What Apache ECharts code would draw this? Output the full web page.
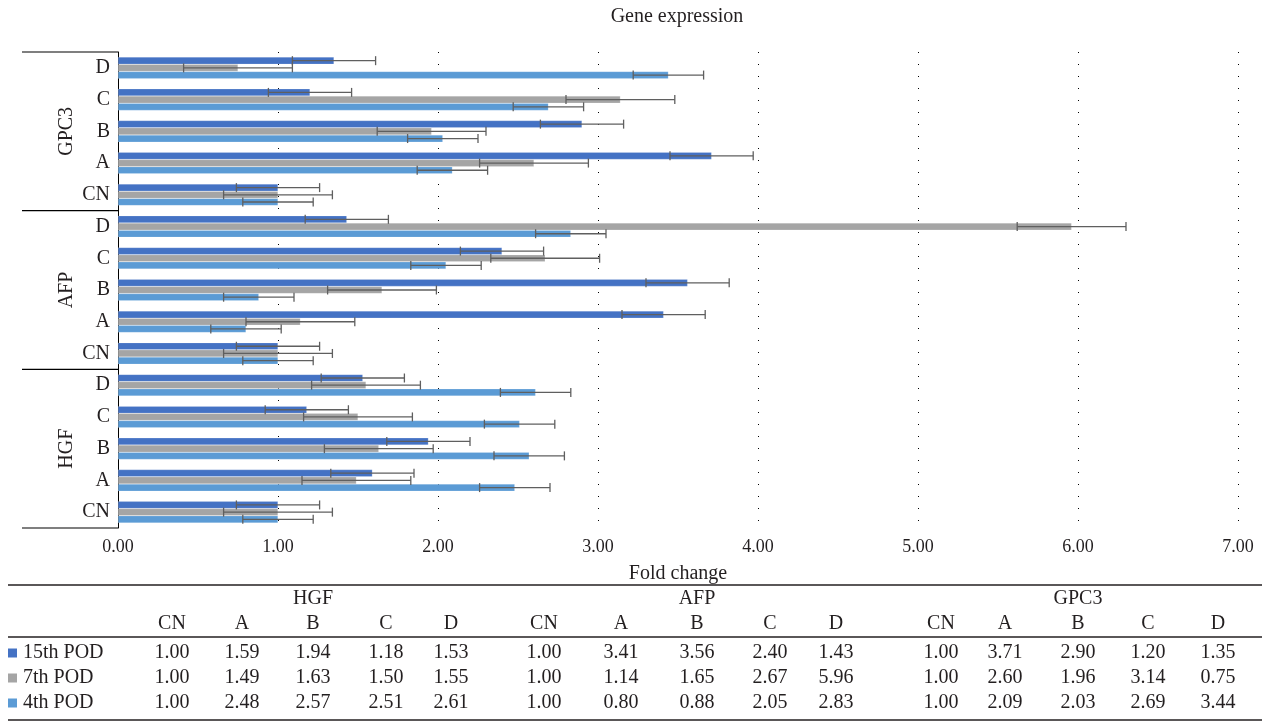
<!DOCTYPE html>
<html>
<head>
<meta charset="utf-8">
<script src="https://cdn.jsdelivr.net/npm/echarts@6/dist/echarts.min.js"></script>
<style>
  html, body { margin: 0; padding: 0; background: #fff; }
  #chart { width: 1268px; height: 723px; }
</style>
</head>
<body>
<div id="chart"></div>
<script>
// genes (outer groups) and the samples inside each, bottom to top
const genes = ['HGF', 'AFP', 'GPC3'];
const samples = ['CN', 'A', 'B', 'C', 'D'];
const seriesNames = ['15th POD', '7th POD', '4th POD'];

// fold change, order: HGF CN..D, AFP CN..D, GPC3 CN..D
const pod15 = [1.00, 1.59, 1.94, 1.18, 1.53, 1.00, 3.41, 3.56, 2.40, 1.43, 1.00, 3.71, 2.90, 1.20, 1.35];
const pod7 = [1.00, 1.49, 1.63, 1.50, 1.55, 1.00, 1.14, 1.65, 2.67, 5.96, 1.00, 2.60, 1.96, 3.14, 0.75];
const pod4 = [1.00, 2.48, 2.57, 2.51, 2.61, 1.00, 0.80, 0.88, 2.05, 2.83, 1.00, 2.09, 2.03, 2.69, 3.44];

// error bar half widths
const err15 = [0.26, 0.26, 0.26, 0.26, 0.26, 0.26, 0.26, 0.26, 0.26, 0.26, 0.26, 0.26, 0.26, 0.26, 0.26];
const err7 = [0.34, 0.34, 0.34, 0.34, 0.34, 0.34, 0.34, 0.34, 0.34, 0.34, 0.34, 0.34, 0.34, 0.34, 0.34];
const err4 = [0.22, 0.22, 0.22, 0.22, 0.22, 0.22, 0.22, 0.22, 0.22, 0.22, 0.22, 0.22, 0.22, 0.22, 0.22];

const xMin = 0, xMax = 7, xStep = 1;

const colors = ['#4472C4', '#A5A5A5', '#5B9BD5'];
const FONT = '"Liberation Serif", "DejaVu Serif", serif';
const INK = '#231F20';
const BAR_W = 7.2;

const categories = genes.flatMap(g => samples.map(s => g + '|' + s));

const chart = echarts.init(document.getElementById('chart'));

function barSeries(name, vals, color) {
  return {
    name, type: 'bar', data: vals,
    barWidth: BAR_W, barGap: '0%',
    itemStyle: { color, borderColor: 'rgba(255,255,255,0.35)', borderWidth: 0.5 },
    z: 2
  };
}

function errorSeries(name, vals, errs, slot) {
  return {
    name: name + ' error', type: 'custom', z: 5,
    data: vals.map((v, i) => [v, i, errs[i]]),
    encode: { x: 0, y: 1 },
    renderItem: (params, api) => {
      const v = api.value(0), c = api.value(1), e = api.value(2);
      const mid = api.coord([v, c]);
      const y = mid[1] + (slot - 1) * BAR_W;
      const x1 = api.coord([v - e, c])[0];
      const x2 = api.coord([v + e, c])[0];
      const h = 4.5;
      const st = { stroke: '#5f5f5f', lineWidth: 1.3 };
      return {
        type: 'group',
        children: [
          { type: 'line', shape: { x1, y1: y, x2, y2: y }, style: st },
          { type: 'line', shape: { x1, y1: y - h, x2: x1, y2: y + h }, style: st },
          { type: 'line', shape: { x1: x2, y1: y - h, x2, y2: y + h }, style: st }
        ]
      };
    }
  };
}

chart.setOption({
  animation: false,
  backgroundColor: '#fff',
  title: {
    text: 'Gene expression', left: 672, top: 2, textAlign: 'center',
    textStyle: { fontFamily: FONT, fontSize: 20, fontWeight: 'normal', color: INK }
  },
  grid: { left: 118, right: 30, top: 52, bottom: 195 },
  xAxis: {
    type: 'value', min: xMin, max: xMax, interval: xStep,
    axisLine: { show: false }, axisTick: { show: false },
    axisLabel: {
      fontFamily: FONT, fontSize: 18, color: INK, margin: 10,
      formatter: v => v.toFixed(2)
    },
    splitLine: { show: true, lineStyle: { color: '#000', width: 1, type: [1, 11] } },
    name: 'Fold change', nameLocation: 'middle', nameGap: 36,
    nameTextStyle: { fontFamily: FONT, fontSize: 20, color: INK }
  },
  yAxis: {
    type: 'category', data: categories,
    axisLine: { show: true, lineStyle: { color: '#000', width: 1 } },
    axisTick: { show: false },
    axisLabel: {
      fontFamily: FONT, fontSize: 20, color: INK, margin: 8,
      formatter: v => v.split('|')[1]
    }
  },
  series: [
    barSeries(seriesNames[0], pod15, colors[0]),
    barSeries(seriesNames[1], pod7, colors[1]),
    barSeries(seriesNames[2], pod4, colors[2]),
    errorSeries(seriesNames[0], pod15, err15, 0),
    errorSeries(seriesNames[1], pod7, err7, 1),
    errorSeries(seriesNames[2], pod4, err4, 2)
  ]
});

// group brackets and labels on the left, placed from the category axis
const yc = i => chart.convertToPixel({ yAxisIndex: 0 }, i);
const band = Math.abs(yc(0) - yc(1));
const gridLeft = 118;
const graphics = [];
const lineStyle = { stroke: '#000', lineWidth: 1.2 };

genes.forEach((g, gi) => {
  const bottom = yc(gi * 5) + band / 2;
  const top = yc(gi * 5 + 4) - band / 2;
  graphics.push({ type: 'line', shape: { x1: 22, y1: bottom, x2: gridLeft, y2: bottom }, style: lineStyle });
  if (gi === genes.length - 1) {
    graphics.push({ type: 'line', shape: { x1: 22, y1: top, x2: gridLeft, y2: top }, style: lineStyle });
  }
  graphics.push({
    type: 'text', x: 67, y: (top + bottom) / 2, rotation: Math.PI / 2,
    style: { text: g, fontFamily: FONT, fontSize: 20, fill: INK, align: 'center', verticalAlign: 'middle' }
  });
});

// data table under the chart
const colX = [172, 242, 313, 386, 451, 544, 621, 697, 770, 836, 941, 1005, 1078, 1148, 1218];
const rowY = [653, 678, 703];
const tableLeft = 8, tableRight = 1262;
const tLine = { stroke: INK, lineWidth: 1.5 };
const txt = (text, x, y, align) => ({
  type: 'text', x, y,
  style: { text, fontFamily: FONT, fontSize: 20, fill: INK, align: align || 'center', verticalAlign: 'middle' }
});

graphics.push({ type: 'line', shape: { x1: tableLeft, y1: 585, x2: tableRight, y2: 585 }, style: tLine });
graphics.push({ type: 'line', shape: { x1: tableLeft, y1: 637, x2: tableRight, y2: 637 }, style: tLine });
graphics.push({ type: 'line', shape: { x1: tableLeft, y1: 720, x2: tableRight, y2: 720 }, style: tLine });

genes.forEach((g, gi) => {
  graphics.push(txt(g, colX[gi * 5 + 2], 599));
});
categories.forEach((c, i) => {
  graphics.push(txt(c.split('|')[1], colX[i], 624));
});
[pod15, pod7, pod4].forEach((vals, r) => {
  graphics.push({
    type: 'rect', shape: { x: 8, y: rowY[r] - 4.5, width: 9, height: 9 },
    style: { fill: colors[r] }
  });
  graphics.push(txt(seriesNames[r], 23, rowY[r], 'left'));
  vals.forEach((v, i) => graphics.push(txt(v.toFixed(2), colX[i], rowY[r])));
});

chart.setOption({ graphic: graphics });
</script>
</body>
</html>
